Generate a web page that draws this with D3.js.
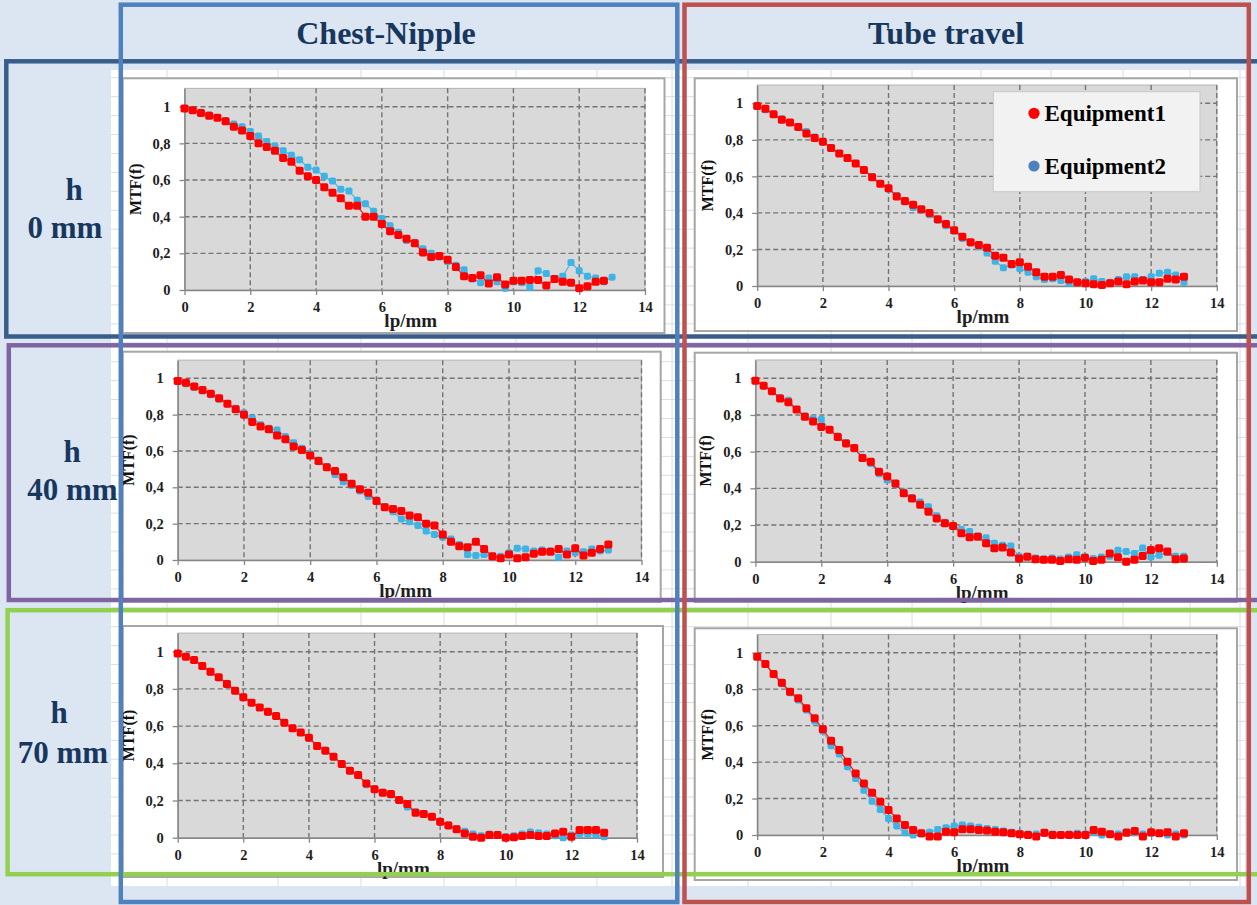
<!DOCTYPE html>
<html>
<head>
<meta charset="utf-8">
<script src="https://cdn.jsdelivr.net/npm/d3@7"></script>
<style>
  html, body { margin: 0; padding: 0; background: #dce6f2; }
  svg { display: block; }
</style>
</head>
<body>
<svg id="fig" width="1257" height="905"></svg>
<script>
// ---- sampled spatial frequencies (lp/mm) ----
const freq = [0,0.25,0.5,0.75,1,1.25,1.5,1.75,2,2.25,2.5,2.75,3,3.25,3.5,3.75,4,4.25,4.5,4.75,
  5,5.25,5.5,5.75,6,6.25,6.5,6.75,7,7.25,7.5,7.75,8,8.25,8.5,8.75,9,9.25,9.5,9.75,
  10,10.25,10.5,10.75,11,11.25,11.5,11.75,12,12.25,12.5,12.75,13];

// ---- MTF values, Chest-Nipple direction ----
const chestEq1_h0 = [0.99,0.98,0.965,0.95,0.94,0.92,0.89,0.87,0.84,0.80,
  0.78,0.76,0.72,0.70,0.65,0.62,0.60,0.56,0.53,0.50,
  0.46,0.46,0.40,0.40,0.36,0.32,0.30,0.28,0.255,0.205,
  0.18,0.185,0.165,0.125,0.075,0.065,0.08,0.035,0.07,0.03,
  0.05,0.05,0.055,0.055,0.025,0.06,0.045,0.04,0.01,0.02,
  0.045,0.05];
const chestEq2_h0 = [0.99,0.98,0.97,0.955,0.94,0.925,0.905,0.89,0.865,0.84,
  0.81,0.785,0.76,0.735,0.71,0.67,0.655,0.62,0.595,0.55,
  0.54,0.49,0.47,0.43,0.39,0.35,0.315,0.27,0.26,0.225,
  0.2,0.18,0.155,0.135,0.11,0.06,0.04,0.065,0.045,0.01,
  0.045,0.04,0.015,0.105,0.09,0.06,0.075,0.15,0.105,0.075,
  0.065,0.045,0.07];
const chestEq1_h40 = [0.985,0.975,0.955,0.935,0.915,0.89,0.86,0.83,0.80,0.76,
  0.735,0.72,0.685,0.665,0.625,0.605,0.575,0.545,0.51,0.49,
  0.455,0.42,0.39,0.37,0.325,0.29,0.28,0.27,0.245,0.235,
  0.2,0.19,0.14,0.1,0.075,0.07,0.10,0.06,0.02,0.01,
  0.03,0.01,0.015,0.035,0.045,0.045,0.06,0.03,0.065,0.025,
  0.04,0.06,0.085];
const chestEq2_h40 = [0.985,0.97,0.95,0.93,0.91,0.885,0.86,0.835,0.81,0.78,
  0.745,0.725,0.715,0.68,0.645,0.615,0.585,0.55,0.515,0.47,
  0.43,0.41,0.38,0.35,0.33,0.295,0.265,0.225,0.21,0.19,
  0.16,0.14,0.125,0.115,0.085,0.03,0.025,0.03,0.02,0.02,
  0.04,0.065,0.06,0.05,0.055,0.05,0.015,0.05,0.04,0.045,
  0.06,0.05,0.055];
const chestEq1_h70 = [0.99,0.973,0.955,0.923,0.892,0.862,0.826,0.79,0.755,0.726,
  0.70,0.677,0.654,0.618,0.588,0.565,0.538,0.493,0.468,0.435,
  0.396,0.36,0.337,0.292,0.26,0.242,0.235,0.203,0.181,0.134,
  0.127,0.113,0.086,0.066,0.045,0.023,0.005,0,0.014,0.014,
  0,0.002,0.009,0.014,0.009,0.009,0.023,0.032,0.005,0.041,
  0.041,0.041,0.027];
const chestEq2_h70 = [0.99,0.975,0.955,0.925,0.89,0.86,0.83,0.79,0.757,0.725,
  0.70,0.675,0.655,0.62,0.59,0.565,0.535,0.495,0.47,0.435,
  0.398,0.36,0.335,0.285,0.265,0.245,0.23,0.2,0.165,0.14,
  0.13,0.11,0.085,0.07,0.05,0.035,0.02,0.01,0.02,0.015,
  0.005,0.01,0.02,0.03,0.025,0.02,0.01,0,0.015,0.02,
  0.02,0.015,0.005];

// ---- MTF values, Tube travel direction ----
const tubeEq1_h0 = [0.985,0.97,0.94,0.91,0.895,0.87,0.835,0.81,0.79,0.755,
  0.725,0.70,0.67,0.635,0.595,0.56,0.535,0.49,0.465,0.445,
  0.42,0.40,0.365,0.34,0.305,0.27,0.24,0.225,0.21,0.165,
  0.155,0.12,0.13,0.105,0.075,0.05,0.05,0.06,0.035,0.02,
  0.015,0.01,0.005,0.015,0.025,0.01,0.025,0.03,0.02,0.02,
  0.04,0.035,0.05];
const tubeEq2_h0 = [0.985,0.965,0.94,0.915,0.895,0.87,0.845,0.815,0.79,0.755,
  0.725,0.70,0.67,0.635,0.6,0.56,0.53,0.495,0.46,0.43,
  0.415,0.39,0.36,0.33,0.30,0.26,0.235,0.215,0.18,0.135,
  0.10,0.115,0.095,0.075,0.05,0.035,0.04,0.03,0.015,0.02,
  0.025,0.04,0.025,0.02,0.035,0.05,0.05,0.035,0.05,0.07,
  0.075,0.06,0.02];
const tubeEq1_h40 = [0.987,0.96,0.93,0.89,0.87,0.83,0.79,0.765,0.735,0.72,
  0.68,0.645,0.62,0.565,0.545,0.49,0.465,0.427,0.373,0.345,
  0.31,0.273,0.236,0.21,0.195,0.155,0.133,0.136,0.1,0.073,
  0.078,0.05,0.018,0.027,0.013,0.01,0.01,0.004,0.013,0.01,
  0.022,0.004,0.01,0.045,0.024,0,0.01,0.031,0.064,0.073,
  0.055,0.013,0.018];
const tubeEq2_h40 = [0.987,0.96,0.93,0.895,0.88,0.83,0.795,0.78,0.775,0.72,
  0.685,0.65,0.62,0.57,0.535,0.48,0.445,0.42,0.38,0.35,
  0.325,0.30,0.25,0.215,0.195,0.175,0.165,0.14,0.13,0.1,
  0.09,0.085,0.03,0.03,0.02,0.015,0.02,0.015,0.025,0.038,
  0.025,0.018,0.025,0.03,0.062,0.055,0.045,0.075,0.025,0.035,
  0.05,0.03,0.03];
const tubeEq1_h70 = [0.978,0.938,0.883,0.835,0.786,0.75,0.695,0.64,0.58,0.517,
  0.466,0.402,0.338,0.283,0.232,0.183,0.137,0.091,0.055,0.027,
  0.009,-0.008,-0.008,0.018,0.015,0.031,0.031,0.027,0.024,0.018,
  0.015,0.009,0.004,0,-0.008,0.013,0,0,0,0,
  0,0.027,0.018,0.004,-0.008,0.013,0.022,-0.008,0.015,0.009,
  0.015,-0.008,0.009];
const tubeEq2_h70 = [0.978,0.935,0.88,0.83,0.78,0.74,0.685,0.625,0.57,0.49,
  0.445,0.375,0.31,0.245,0.185,0.14,0.09,0.05,0.012,0,
  0.005,0.015,0.03,0.04,0.05,0.055,0.05,0.042,0.035,0.03,
  0.022,0.015,0.01,0.005,0.005,0.008,0.005,0,0.005,0.01,
  0.005,0.015,0,0.005,0.005,0.018,0.012,0.005,0.01,0.01,
  0,0.005,0];

// ---- labels ----
const columnTitles = ["Chest-Nipple", "Tube travel"];
const rowHeights = ["0 mm", "40 mm", "70 mm"];
const seriesNames = ["Equipment1", "Equipment2"];
const xTickValues = [0, 2, 4, 6, 8, 10, 12, 14];
const xTickLabels = ["0", "2", "4", "6", "8", "10", "12", "14"];
const yTickValues = [0, 0.2, 0.4, 0.6, 0.8, 1];
const yTickLabels = ["0", "0,2", "0,4", "0,6", "0,8", "1"];
const xTitle = "lp/mm";
const yTitle = "MTF(f)";

// ---- styling ----
const SERIF = "'Liberation Serif', 'Times New Roman', serif";
const NAVY_TEXT = "#17375e";
const EQ1_COLOR = "#ff0000";
const EQ2_COLOR = "#3db4e6";
const EQ2_LEGEND = "#4f81bd";

const svg = d3.select("#fig");

// page background and worksheet area
svg.append("rect").attr("width", 1257).attr("height", 905).attr("fill", "#dce6f2");
const sheet = svg.append("g");
sheet.append("rect").attr("x", 111).attr("y", 70).attr("width", 1134).attr("height", 816)
  .attr("fill", "#ffffff");
const sheetCols = [167, 278, 361, 444, 516, 597, 672, 748, 831, 912, 981, 1051, 1123, 1190, 1240];
sheet.selectAll("line.col").data(sheetCols).join("line")
  .attr("x1", d => d).attr("x2", d => d).attr("y1", 70).attr("y2", 886)
  .attr("stroke", "#d6deea").attr("stroke-width", 1);
const sheetRows = d3.range(77.75, 886, 18.93);
sheet.selectAll("line.row").data(sheetRows).join("line")
  .attr("x1", 111).attr("x2", 1245).attr("y1", d => d).attr("y2", d => d)
  .attr("stroke", "#d6deea").attr("stroke-width", 1);

// chart placement: outer box and plot area (x at 0 and 14 lp/mm, y at 0 and 1)
const panelLayout = [
  { box: [122.7, 78.3, 664.5, 333], xL: 184.5, xR: 645, y0: 290, y1: 106.7 },
  { box: [694.7, 78.3, 1237, 331], xL: 757.2, xR: 1216.8, y0: 286, y1: 103.3 },
  { box: [122.8, 351.7, 660.7, 602], xL: 177.7, xR: 641.5, y0: 560, y1: 378.3 },
  { box: [694.7, 352.7, 1237, 602], xL: 755.4, xR: 1216.8, y0: 561.7, y1: 378.3 },
  { box: [122.8, 626, 663, 877], xL: 177.7, xR: 637, y0: 837.7, y1: 651.7 },
  { box: [694.7, 628.3, 1237, 880], xL: 757.2, xR: 1216.8, y0: 835, y1: 652.7 }
];
const panelSeries = [
  [chestEq1_h0, chestEq2_h0], [tubeEq1_h0, tubeEq2_h0],
  [chestEq1_h40, chestEq2_h40], [tubeEq1_h40, tubeEq2_h40],
  [chestEq1_h70, chestEq2_h70], [tubeEq1_h70, tubeEq2_h70]
];

function drawPanel(L, eq1, eq2, withLegend) {
  const g = svg.append("g");
  const [bx0, by0, bx1, by1] = L.box;
  g.append("rect").attr("x", bx0).attr("y", by0).attr("width", bx1 - bx0).attr("height", by1 - by0)
    .attr("fill", "#ffffff").attr("stroke", "#a6a6a6").attr("stroke-width", 2);

  const x = d3.scaleLinear().domain([0, 14]).range([L.xL, L.xR]);
  // unit of 1.0 between y0 and y1; plot area top sits at 1.1
  const yScaleUnit = L.y0 - L.y1;
  const y = d3.scaleLinear().domain([0, 1.1]).range([L.y0, L.y0 - 1.1 * yScaleUnit]);

  g.append("rect").attr("x", x(0)).attr("y", y(1.1)).attr("width", x(14) - x(0)).attr("height", y(0) - y(1.1))
    .attr("fill", "#d9d9d9").attr("stroke", "#b4b4b4").attr("stroke-width", 1);

  // dashed major gridlines
  const grid = g.append("g").attr("stroke", "#747474").attr("stroke-width", 1.4).attr("stroke-dasharray", "5,3");
  grid.selectAll("line.h").data(yTickValues.slice(1)).join("line")
    .attr("x1", x(0)).attr("x2", x(14)).attr("y1", d => y(d)).attr("y2", d => y(d));
  grid.selectAll("line.v").data(xTickValues.slice(1)).join("line")
    .attr("x1", d => x(d)).attr("x2", d => x(d)).attr("y1", y(1.1)).attr("y2", y(0));

  // axes
  const yAxis = d3.axisLeft(y).tickValues(yTickValues).tickSize(5).tickSizeOuter(0).tickPadding(9)
    .tickFormat((d, i) => yTickLabels[i]);
  const xAxis = d3.axisBottom(x).tickValues(xTickValues).tickSize(5).tickSizeOuter(0).tickPadding(7)
    .tickFormat((d, i) => xTickLabels[i]);
  const ya = g.append("g").attr("transform", `translate(${x(0)},0)`).call(yAxis);
  const xa = g.append("g").attr("transform", `translate(0,${y(0)})`).call(xAxis);
  [ya, xa].forEach(a => {
    a.select(".domain").attr("stroke", "#868686").attr("stroke-width", 1.5);
    a.selectAll(".tick line").attr("stroke", "#868686").attr("stroke-width", 1.3);
    a.selectAll(".tick text").attr("fill", "#1e1e1e").attr("font-family", SERIF)
      .attr("font-weight", "bold").attr("font-size", 14.5);
  });

  // series: thin connecting line and square markers
  const line = d3.line().x((d, i) => x(freq[i])).y(d => y(d));
  const series = [{ v: eq2, c: EQ2_COLOR, s: 7 }, { v: eq1, c: EQ1_COLOR, s: 8 }];
  series.forEach(S => {
    g.append("path").datum(S.v).attr("d", line).attr("fill", "none")
      .attr("stroke", S.c).attr("stroke-width", 1.3).attr("opacity", 0.85);
    g.append("g").selectAll("rect").data(S.v).join("rect")
      .attr("x", (d, i) => x(freq[i]) - S.s / 2).attr("y", d => y(d) - S.s / 2)
      .attr("width", S.s).attr("height", S.s).attr("rx", 1.8)
      .attr("fill", S.c);
  });

  // axis titles
  g.append("text").attr("x", (x(0) + x(14)) / 2 - 4).attr("y", y(0) + 37)
    .attr("text-anchor", "middle").attr("font-family", SERIF).attr("font-weight", "bold")
    .attr("font-size", 19).attr("fill", "#1e1e1e").text(xTitle);
  g.append("text")
    .attr("transform", `translate(${x(0) - 44},${(y(0) + y(1.1)) / 2}) rotate(-90)`)
    .attr("text-anchor", "middle").attr("font-family", SERIF).attr("font-weight", "bold")
    .attr("font-size", 16).attr("fill", "#111").text(yTitle);

  if (withLegend) {
    const lg = g.append("g");
    lg.append("rect").attr("x", 993.3).attr("y", 91.7).attr("width", 206.7).attr("height", 100)
      .attr("fill", "#f2f2f2").attr("stroke", "#c8c8c8").attr("stroke-width", 1);
    const items = [{ name: seriesNames[0], c: EQ1_COLOR, cy: 113.3 }, { name: seriesNames[1], c: EQ2_LEGEND, cy: 166 }];
    items.forEach(it => {
      lg.append("circle").attr("cx", 1034).attr("cy", it.cy).attr("r", 5.6).attr("fill", it.c);
      lg.append("text").attr("x", 1044.5).attr("y", it.cy + 7.5).attr("font-family", SERIF)
        .attr("font-weight", "bold").attr("font-size", 23).attr("fill", "#000").text(it.name);
    });
  }
}

panelLayout.forEach((L, i) => drawPanel(L, panelSeries[i][0], panelSeries[i][1], i === 1));

// column headers
const headerX = [386, 946];
columnTitles.forEach((t, i) => {
  svg.append("text").attr("x", headerX[i]).attr("y", 43.5).attr("text-anchor", "middle")
    .attr("font-family", SERIF).attr("font-weight", "bold").attr("font-size", 32)
    .attr("fill", NAVY_TEXT).text(t);
});

// row labels
const rowLabelPos = [
  { hx: 74, hy: 200, mx: 65, my: 238 },
  { hx: 72, hy: 461.7, mx: 72.5, my: 500 },
  { hx: 59, hy: 723, mx: 63, my: 762.7 }
];
rowHeights.forEach((t, i) => {
  const p = rowLabelPos[i];
  svg.append("text").attr("x", p.hx).attr("y", p.hy).attr("text-anchor", "middle")
    .attr("font-family", SERIF).attr("font-weight", "bold").attr("font-size", 31)
    .attr("fill", NAVY_TEXT).text("h");
  svg.append("text").attr("x", p.mx).attr("y", p.my).attr("text-anchor", "middle")
    .attr("font-family", SERIF).attr("font-weight", "bold").attr("font-size", 31)
    .attr("fill", NAVY_TEXT).text(t);
});

// row frames (extend past the right edge)
const rowFrames = [
  { x: 6.3, y: 61.3, y2: 336.5, c: "#385d8a" },
  { x: 8.8, y: 345.3, y2: 600, c: "#8064a2" },
  { x: 7.6, y: 610.2, y2: 874.2, c: "#92d050" }
];
rowFrames.forEach(f => {
  svg.append("rect").attr("x", f.x).attr("y", f.y).attr("width", 1280).attr("height", f.y2 - f.y)
    .attr("fill", "none").attr("stroke", f.c).attr("stroke-width", 4.5);
});

// column frames
const colFrames = [
  { x: 120.8, x2: 677.3, c: "#4f81bd" },
  { x: 684.5, x2: 1248.8, c: "#c0504d" }
];
colFrames.forEach(f => {
  svg.append("rect").attr("x", f.x).attr("y", 4.7).attr("width", f.x2 - f.x).attr("height", 897.3)
    .attr("fill", "none").attr("stroke", f.c).attr("stroke-width", 4.5);
});
</script>
</body>
</html>
